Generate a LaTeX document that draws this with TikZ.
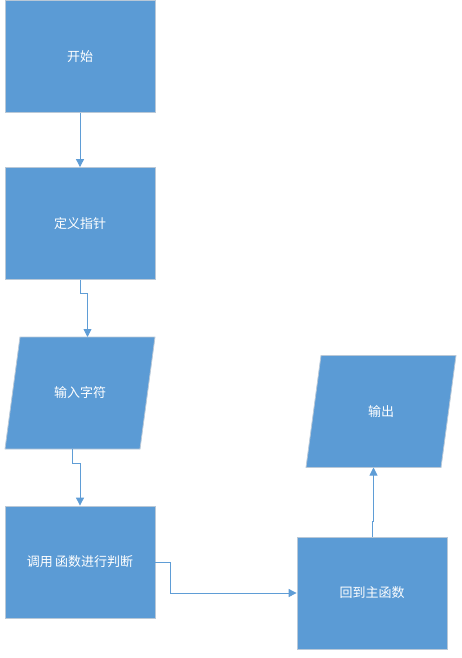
\documentclass[tikz,border=0pt]{standalone}
\usepackage{fontspec}
\usepackage{tikz}
\usetikzlibrary{arrows.meta}
\newfontfamily\cjk{Noto Sans CJK SC}
\definecolor{boxblue}{RGB}{91,155,213}
\definecolor{boxedge}{RGB}{185,200,215}
\definecolor{lineblue}{RGB}{95,157,214}
% parallelogram for input / output, name, centre, text
\def\iobox(#1)(#2,#3)#4{
	\filldraw[draw=boxedge, line width=0.8pt, fill=boxblue]
		({#2-75},{#3+56}) -- ({#2+60},{#3+56}) -- ({#2+75},{#3-56}) -- ({#2-60},{#3-56}) -- cycle;
	\node[steptext] (#1) at (#2,#3) {#4};
	\coordinate (#1-top) at ({#2+7.5},{#3-56});
	\coordinate (#1-bottom) at ({#2-7.5},{#3+56});
}

\begin{document}
\begin{tikzpicture}[x=1pt,y=-1pt,
	steptext/.style={text=white, inner sep=0pt, font=\cjk\fontsize{13}{15}\selectfont},
	stepbox/.style={steptext, draw=boxedge, line width=0.8pt, fill=boxblue,
		minimum width=150pt, minimum height=112pt},
	flow/.style={draw=lineblue, line width=0.9pt, -{Triangle[length=8pt,width=8pt]}}]
			%%%%% START %%%%%
			
			\useasboundingbox (0,0) rectangle (462,658);
			
			\node[stepbox] (start) at (80, 56.5) {开始};
			\node[stepbox] (define) at (80, 223.5) {定义指针};
			\iobox(input)(80,393){输入字符}
			\node[stepbox] (call) at (80, 562) {调用\,函数进行判断};
			\node[stepbox] (back) at (372, 593) {回到主函数};
			\iobox(output)(381,411.5){输出}
			
			\draw[flow] (start) -- (define);
			\draw[flow] (define.south) -- ++(0,14) -| (input-top);
			\draw[flow] (input-bottom) -- ++(0,14) -| (call.north);
			\draw[flow] (call.east) -- ++(15,0) |- (back.west);
			\draw[flow] (back.north) -- ++(0,-15) -| (output-bottom);
			
			%%%%% END %%%%%
\end{tikzpicture}
\end{document}
